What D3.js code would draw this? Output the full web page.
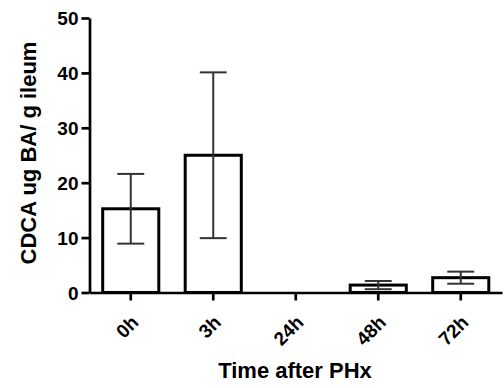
<!DOCTYPE html>
<html>
<head>
<meta charset="utf-8">
<script src="https://cdn.jsdelivr.net/npm/d3@7"></script>
<style>
html,body{margin:0;padding:0;background:#fff;}
svg text{font-family:"Liberation Sans",Arial,sans-serif;font-weight:bold;fill:#000;}
</style>
</head>
<body>
<svg id="chart" width="504" height="388"></svg>
<script>
const categories = ["0h", "3h", "24h", "48h", "72h"];
const means = [15.25, 25.0, 0, 1.35, 2.7];
const errors = [6.35, 15.1, 0, 0.75, 1.1];
const yTicks = [0, 10, 20, 30, 40, 50];
const yTitle = "CDCA ug BA/ g ileum";
const xTitle = "Time after PHx";

const data = categories.map((c, i) => ({cat: c, mean: means[i], err: errors[i]}));

const svg = d3.select("#chart");
const mLeft = 89.5, mRight = 502, mTop = 18, mBottom = 292.5;

const x = d3.scaleBand().domain(categories).range([mLeft, mRight])
  .paddingInner(0.32).paddingOuter(0.16);
const y = d3.scaleLinear().domain([0, 50]).range([mBottom, mTop]);

// bars
svg.append("g").selectAll("rect").data(data).join("rect")
  .attr("x", d => x(d.cat))
  .attr("y", d => y(d.mean))
  .attr("width", x.bandwidth())
  .attr("height", d => y(0) - y(d.mean))
  .attr("fill", "#fff")
  .attr("stroke", "#000")
  .attr("stroke-width", 3);

// error bars
const capW = x.bandwidth() * 0.48;
const eb = svg.append("g").selectAll("g").data(data.filter(d => d.err > 0)).join("g")
  .attr("stroke", "#333").attr("stroke-width", 2);
eb.append("line")
  .attr("x1", d => x(d.cat) + x.bandwidth() / 2)
  .attr("x2", d => x(d.cat) + x.bandwidth() / 2)
  .attr("y1", d => y(d.mean + d.err))
  .attr("y2", d => y(d.mean - d.err));
eb.append("line")
  .attr("x1", d => x(d.cat) + x.bandwidth() / 2 - capW / 2)
  .attr("x2", d => x(d.cat) + x.bandwidth() / 2 + capW / 2)
  .attr("y1", d => y(d.mean + d.err))
  .attr("y2", d => y(d.mean + d.err));
eb.append("line")
  .attr("x1", d => x(d.cat) + x.bandwidth() / 2 - capW / 2)
  .attr("x2", d => x(d.cat) + x.bandwidth() / 2 + capW / 2)
  .attr("y1", d => y(d.mean - d.err))
  .attr("y2", d => y(d.mean - d.err));

// y axis
const yAxis = svg.append("g")
  .attr("transform", `translate(${mLeft},0)`)
  .call(d3.axisLeft(y).tickValues(yTicks).tickSize(8).tickPadding(3).tickSizeOuter(0));
yAxis.attr("font-size", null);
yAxis.select(".domain").attr("stroke", "#000").attr("stroke-width", 2.7);
yAxis.selectAll(".tick line").attr("stroke", "#000").attr("stroke-width", 2.7);
yAxis.selectAll(".tick text").style("font-size", "19px").attr("fill", "#000")
  .attr("dy", "0.36em");

// x axis
const xAxis = svg.append("g")
  .attr("transform", `translate(0,${mBottom})`)
  .call(d3.axisBottom(x).tickSize(8).tickSizeOuter(0));
xAxis.attr("font-size", null);
xAxis.select(".domain").attr("stroke", "#000").attr("stroke-width", 2.7);
xAxis.selectAll(".tick line").attr("stroke", "#000").attr("stroke-width", 2.7);
xAxis.selectAll(".tick text")
  .style("font-size", "19px")
  .attr("fill", "#000")
  .attr("text-anchor", "end")
  .attr("x", 0).attr("y", 0).attr("dy", 0)
  .attr("transform", "translate(9,31) rotate(-45)");

// titles
svg.append("text")
  .attr("transform", "translate(36,153) rotate(-90)")
  .attr("text-anchor", "middle")
  .style("font-size", "22px")
  .text(yTitle);
svg.append("text")
  .attr("x", 295).attr("y", 378)
  .attr("text-anchor", "middle")
  .style("font-size", "22px")
  .text(xTitle);
</script>
</body>
</html>
